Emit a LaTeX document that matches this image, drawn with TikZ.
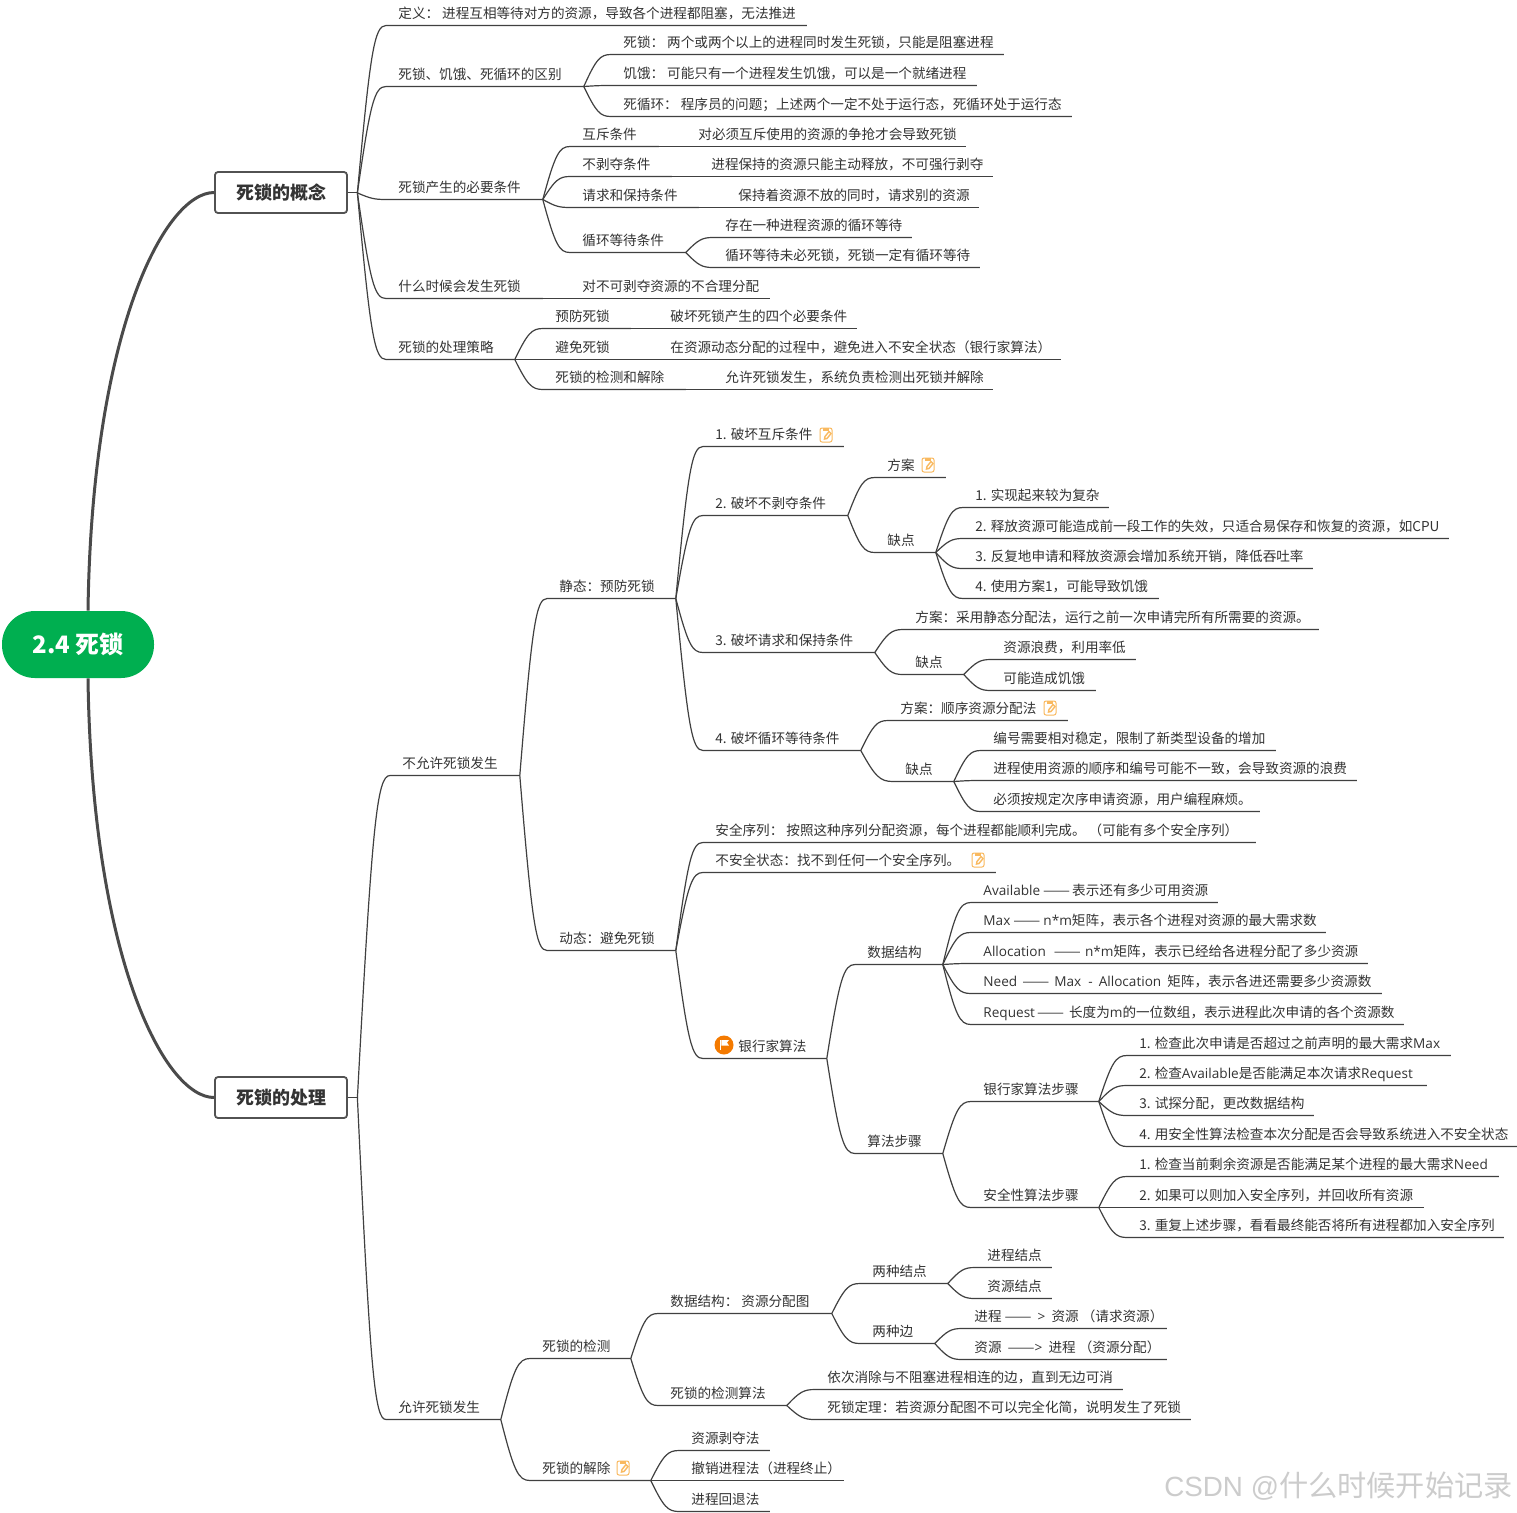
\documentclass[tikz,border=0pt]{standalone}
\usepackage{fontspec}
\usepackage{graphicx}
\setmainfont{Noto Sans CJK SC}
\newfontfamily\markfont{Liberation Sans}
\newfontfamily\latinfont{Open Sans}
\newcommand{\latinw}[1]{{\latinfont #1}}
\usetikzlibrary{calc}
\definecolor{linkgray}{HTML}{404040}
\definecolor{inkgray}{HTML}{333333}
\definecolor{rootgreen}{HTML}{00AF50}
\definecolor{notemarkc}{HTML}{F9B95F}
\definecolor{flagmarkc}{HTML}{F47A00}
\newcommand{\longdash}{\resizebox{13.5pt}{\height}{——}}
\tikzset{
    rootnode/.style={fill=rootgreen,text=white,rounded corners=16.5pt,minimum width=76pt,minimum height=33.5pt,inner sep=0pt,font=\fontsize{12}{15}\selectfont\bfseries},
    topicnode/.style={draw=black!68,fill=white,line width=0.9pt,rounded corners=1.5pt,minimum width=66pt,minimum height=20.5pt,inner sep=0pt,text=inkgray,font=\fontsize{9}{11}\selectfont\bfseries},
    leafnode/.style={anchor=south west,inner sep=0pt,text height=7pt,text depth=3.4pt,text=inkgray,font=\fontsize{6.8}{8}\selectfont},
    hubnode/.style={inner sep=0pt,minimum size=0pt},
    mainlink/.style={draw=linkgray!95,line width=1.5pt},
    leaflink/.style={draw=linkgray,line width=0.6pt},
    notemark/.pic={
        \draw[notemarkc,line width=0.5pt,rounded corners=1pt,fill=white] (-6,-7) rectangle (6,7);
        \fill[notemarkc] (-3,-7) rectangle (3,-4.5);
        \draw[notemarkc,line width=0.7pt] (-1.5,4) -- (-1,1.5) -- (3,-3.5) -- (5,-1.5) -- (1,3.5) -- cycle;
    },
    flagmark/.pic={
        \fill[flagmarkc] (0,0) circle (9.5);
        \fill[white] (-4,-5) rectangle (-2.7,5);
        \fill[white] (-2.7,-5) -- (5,-5) -- (3,-2.5) -- (5,0.5) -- (-2.7,0.5) -- cycle;
    },
}
\begin{document}
\begin{tikzpicture}[x=0.5pt,y=-0.5pt]
    \useasboundingbox[fill=white] (0,0) rectangle (1517,1512);
    \node[rootnode] (root) at (78,644.5) {2.4 死锁};
    \node[topicnode] (concept) at (281,192.5) {死锁的概念};
    \node[topicnode] (handle) at (281,1097.5) {死锁的处理};
    \draw[mainlink] ($(root.north)+(10,0)$) .. controls (92,330) and (165,192.5) .. (concept.west);
    \draw[mainlink] ($(root.south)+(10,0)$) .. controls (92,960) and (165,1097.5) .. (handle.west);
    \node[hubnode] (conceptj) at (357,192.5) {};
    \node[hubnode] (handlej) at (357,1097.5) {};
    \draw[leaflink] (concept.east) -- (conceptj.center);
    \draw[leaflink] (handle.east) -- (handlej.center);
    \foreach \nd/\src/\xt/\xe/\yy/\txt in {
        c1/conceptj/398/806/25/{定义： 进程互相等待对方的资源，导致各个进程都阻塞，无法推进},
        c2/conceptj/398/583/86/{死锁、饥饿、死循环的区别},
        c3/conceptj/398/542/199/{死锁产生的必要条件},
        c4/conceptj/398/542/298/{什么时候会发生死锁},
        c5/conceptj/398/514/359/{死锁的处理策略},
        c2a/c2/623/1003/54/{死锁： 两个或两个以上的进程同时发生死锁，只能是阻塞进程},
        c2b/c2/623/976/85/{饥饿： 可能只有一个进程发生饥饿，可以是一个就绪进程},
        c2c/c2/623/1071/116/{死循环： 程序员的问题；上述两个一定不处于运行态，死循环处于运行态},
        c3a/c3/582/658/146/{互斥条件},
        c3b/c3/582/671/176/{不剥夺条件},
        c3c/c3/582/698/207/{请求和保持条件},
        c3d/c3/582/685/252/{循环等待条件},
        c3aa/c3a/698/965/146/{对必须互斥使用的资源的争抢才会导致死锁},
        c3ba/c3b/711/992/176/{进程保持的资源只能主动释放，不可强行剥夺},
        c3ca/c3c/738/978/207/{保持着资源不放的同时，请求别的资源},
        c3da/c3d/725/911/237/{存在一种进程资源的循环等待},
        c3db/c3d/725/979/267/{循环等待未必死锁，死锁一定有循环等待},
        c4a/c4/582/769/298/{对不可剥夺资源的不合理分配},
        c5a/c5/555/630/328/{预防死锁},
        c5b/c5/555/630/359/{避免死锁},
        c5c/c5/555/685/389/{死锁的检测和解除},
        c5aa/c5a/670/856/328/{破坏死锁产生的四个必要条件},
        c5ba/c5b/670/1060/359/{在资源动态分配的过程中，避免进入不安全状态（银行家算法）},
        c5ca/c5c/725/992/389/{允许死锁发生，系统负责检测出死锁并解除},
        d1/handlej/402/519/775/{不允许死锁发生},
        d2/handlej/398/500/1419/{允许死锁发生},
        e1/d1/559/675/598/{静态：预防死锁},
        e2/d1/559/675/950/{动态：避免死锁},
        f1/e1/715/843/446/{1. 破坏互斥条件},
        f2/e1/715/847/515/{2. 破坏不剥夺条件},
        f3/e1/715/874/652/{3. 破坏请求和保持条件},
        f4/e1/715/860/750/{4. 破坏循环等待条件},
        f2a/f2/887/945/477/{方案},
        f2b/f2/887/935/552/{缺点},
        f2b1/f2b/975/1108/507/{1. 实现起来较为复杂},
        f2b2/f2b/975/1448/538/{2. 释放资源可能造成前一段工作的失效，只适合易保存和恢复的资源，如CPU},
        f2b3/f2b/975/1312/568/{3. 反复地申请和释放资源会增加系统开销，降低吞吐率},
        f2b4/f2b/975/1158/598/{4. 使用方案1，可能导致饥饿},
        f3a/f3/915/1318/629/{方案：采用静态分配法，运行之前一次申请完所有所需要的资源。},
        f3b/f3/915/963/674/{缺点},
        f3b1/f3b/1003/1135/659/{资源浪费，利用率低},
        f3b2/f3b/1003/1095/690/{可能造成饥饿},
        f4a/f4/900/1067/720/{方案：顺序资源分配法},
        f4b/f4/905/953/781/{缺点},
        f4b1/f4b/993/1275/750/{编号需要相对稳定，限制了新类型设备的增加},
        f4b2/f4b/993/1356/780/{进程使用资源的顺序和编号可能不一致，会导致资源的浪费},
        f4b3/f4b/993/1259/811/{必须按规定次序申请资源，用户编程麻烦。},
        g1/e2/715/1255/842/{安全序列： 按照这种序列分配资源，每个进程都能顺利完成。 （可能有多个安全序列）},
        g2/e2/715/995/872/{不安全状态：找不到任何一个安全序列。},
        g3/e2/715/826/1058/{\hspace{11.5pt}银行家算法},
        h1/g3/867/942/964/{数据结构},
        h2/g3/867/942/1153/{算法步骤},
        h1a/h1/983/1217/902/{\latinw{Available}\hspace{1.5pt}\longdash\hspace{1pt}表示还有多少可用资源},
        h1b/h1/983/1325/932/{\latinw{Max} \longdash\hspace{1.5pt}\latinw{n*m}矩阵，表示各个进程对资源的最大需求数},
        h1c/h1/983/1367/963/{\latinw{Allocation}\hspace{2.5pt} \longdash\ \hspace{0.5pt}\latinw{n*m}矩阵，表示已经给各进程分配了多少资源},
        h1d/h1/983/1381/993/{\latinw{Need}\hspace{1pt} \longdash\ \hspace{1pt}\latinw{Max}\hspace{2pt} \latinw{-}\hspace{1.5pt} \latinw{Allocation}\hspace{1.5pt} 矩阵，表示各进还需要多少资源数},
        h1e/h1/983/1403/1024/{\latinw{Request}\hspace{1pt}\longdash\ \hspace{1pt}长度为\latinw{m}的一位数组，表示进程此次申请的各个资源数},
        h2a/h2/983/1098/1101/{银行家算法步骤},
        h2b/h2/983/1098/1207/{安全性算法步骤},
        h2a1/h2a/1139/1450/1055/{1. 检查此次申请是否超过之前声明的最大需求\latinw{Max}},
        h2a2/h2a/1139/1426/1085/{2. 检查\latinw{Available}是否能满足本次请求\latinw{Request}},
        h2a3/h2a/1139/1313/1115/{3. 试探分配，更改数据结构},
        h2a4/h2a/1139/1517/1146/{4. 用安全性算法检查本次分配是否会导致系统进入不安全状态},
        h2b1/h2b/1139/1498/1176/{1. 检查当前剩余资源是否能满足某个进程的最大需求\latinw{Need}},
        h2b2/h2b/1139/1423/1207/{2. 如果可以则加入安全序列，并回收所有资源},
        h2b3/h2b/1139/1503/1237/{3. 重复上述步骤，看看最终能否将所有进程都加入安全序列},
        k1/d2/542/630/1358/{死锁的检测},
        k2/d2/542/650/1480/{死锁的解除},
        k1a/k1/670/831/1313/{数据结构： 资源分配图},
        k1b/k1/670/786/1405/{死锁的检测算法},
        k1a1/k1a/872/947/1283/{两种结点},
        k1a2/k1a/872/934/1343/{两种边},
        k1a1a/k1a1/987/1051/1267/{进程结点},
        k1a1b/k1a1/987/1051/1298/{资源结点},
        k1a2a/k1a2/974/1166/1328/{进程 \longdash\ \ \latinw{>}\ \ 资源 （请求资源）},
        k1a2b/k1a2/974/1166/1359/{资源\ \ \longdash\latinw{>}\ \ 进程 （资源分配）},
        k1b1/k1b/827/1122/1389/{依次消除与不阻塞进程相连的边，直到无边可消},
        k1b2/k1b/827/1190/1419/{死锁定理：若资源分配图不可以完全化简，说明发生了死锁},
        k2a/k2/691/769/1450/{资源剥夺法},
        k2b/k2/691/843/1480/{撤销进程法（进程终止）},
        k2c/k2/691/769/1511/{进程回退法}%
    }{
        \pgfmathsetmacro\boxw{(\xe-\xt+12)*0.5}
        \node[leafnode] (\nd) at (\xt-12,\yy+0.5) {\makebox[\boxw pt][l]{\hspace{6pt}\txt}};
        \draw[leaflink] let \p1=(\src.south east), \p2=(\nd.south west) in
            (\p1) .. controls ({\x1+0.45*(\x2-\x1)},{\y1+0.85*(\y2-\y1)}) and ({\x1+0.6*(\x2-\x1)},\y2) .. (\p2) -- (\nd.south east);
    }
    \foreach \nx/\ny in {826/435,928/465,1050/708,978/860,623/1468}{
        \pic at (\nx,\ny) {notemark};
    }
    \pic at (724,1045) {flagmark};
    \node[anchor=base east,inner sep=0pt,text=black!20,font=\fontsize{14.6}{16}\selectfont] (mark) at (1513,1496) {{\markfont\fontsize{13.9}{16}\selectfont CSDN @}什么时候开始记录};
\end{tikzpicture}
\end{document}
